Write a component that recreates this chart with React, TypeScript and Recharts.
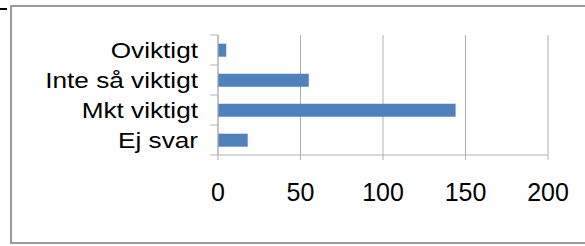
import React from 'react';
import { BarChart, Bar, XAxis, YAxis, CartesianGrid } from 'recharts';

const categories = ['Oviktigt', 'Inte så viktigt', 'Mkt viktigt', 'Ej svar'];
const values = [5, 55, 144, 18];
const xTicks = [0, 50, 100, 150, 200];

const data = categories.map((name, i) => ({ name, value: values[i] }));

const W = 585;
const H = 246;
const margin = { top: 35, right: 37, bottom: 0, left: 0 };
const Y_AXIS_W = 218;
const X_AXIS_H = 91;
const band = (H - margin.top - margin.bottom - X_AXIS_H) / categories.length;

const FONT = '"Liberation Sans", Arial, sans-serif';
const GRID = '#b0b0b0';

const CategoryTick = (props: any) => {
  const { x, y, payload, index } = props;
  const axisX = x + 20;
  return (
    <g>
      <line x1={axisX - 8} x2={axisX} y1={y - band / 2} y2={y - band / 2} stroke={GRID} />
      {index === categories.length - 1 && (
        <line x1={axisX - 8} x2={axisX} y1={y + band / 2} y2={y + band / 2} stroke={GRID} />
      )}
      <g transform={`translate(${x},${y}) scale(1.19,1)`}>
        <text x={0} y={0} dy="0.36em" textAnchor="end" fontSize={22} fontFamily={FONT} fill="#000">
          {payload.value}
        </text>
      </g>
    </g>
  );
};

export default function App() {
  return (
    <div style={{ position: 'absolute', left: 0, top: 0, width: W, height: H, overflow: 'hidden', background: '#fff' }}>
      <div style={{ position: 'absolute', left: 0, top: 8, width: 7, height: 2, background: '#000' }} />
      <div
        style={{
          position: 'absolute',
          left: 10,
          top: 5,
          width: 620,
          height: 239,
          border: '2px solid #9a9a9a',
          boxSizing: 'border-box',
        }}
      />
      <div style={{ position: 'absolute', left: 0, top: 0 }}>
        <BarChart width={W} height={H} data={data} layout="vertical" margin={margin} barCategoryGap="29%">
          <CartesianGrid horizontal={false} stroke={GRID} />
          <XAxis
            type="number"
            domain={[0, 200]}
            ticks={xTicks}
            height={X_AXIS_H}
            tickSize={5}
            tickMargin={23}
            axisLine={{ stroke: GRID }}
            tickLine={{ stroke: GRID }}
            tick={{ fontSize: 25, fill: '#000', fontFamily: FONT }}
          />
          <YAxis
            type="category"
            dataKey="name"
            width={Y_AXIS_W}
            tickSize={8}
            tickMargin={12}
            tickLine={false}
            axisLine={{ stroke: GRID }}
            tick={<CategoryTick />}
            interval={0}
          />
          <Bar dataKey="value" fill="#4f81bd" isAnimationActive={false} />
        </BarChart>
      </div>
    </div>
  );
}
